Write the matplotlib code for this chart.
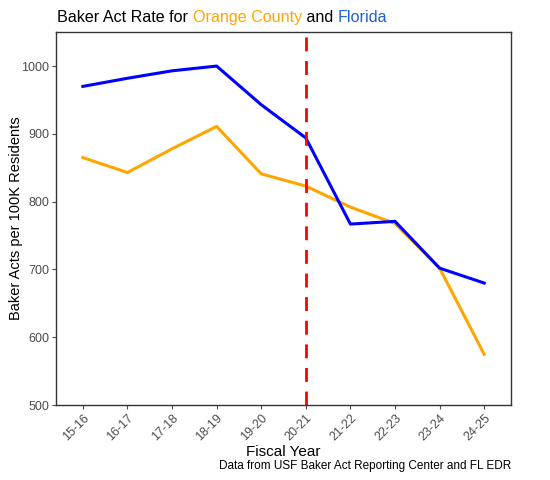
import matplotlib.pyplot as plt
from matplotlib.offsetbox import TextArea, HPacker, AnchoredOffsetbox

plt.rcParams['font.family'] = ['Liberation Sans', 'DejaVu Sans']

# Fiscal years and rates (Baker Acts per 100K residents)
years = ['15-16', '16-17', '17-18', '18-19', '19-20', '20-21', '21-22', '22-23', '23-24', '24-25']
orange_county = [865, 843, 878, 911, 841, 823, 792, 768, 702, 575]
florida = [970, 982, 993, 1000, 943, 894, 767, 771, 702, 680]

orange_col = '#FFA500'
blue_col = '#0000FF'

fig = plt.figure(figsize=(5.5, 4.8), dpi=100)
ax = fig.add_axes([0.102, 0.156, 0.827, 0.777])

x = range(len(years))
ax.plot(x, orange_county, color=orange_col, lw=2.2)
ax.plot(x, florida, color=blue_col, lw=2.2)
ax.axvline(years.index('20-21'), color='#FF0000', lw=2, ls=(0, (5, 3.5)))

ax.set_xlim(-0.6, 9.6)
ax.set_ylim(500, 1050)
ax.set_yticks([500, 600, 700, 800, 900, 1000])
ax.set_xticks(list(x))
ax.set_xticklabels(years, rotation=45, ha='right', rotation_mode='anchor')
ax.tick_params(labelsize=9, colors='#4D4D4D', length=3, pad=2)
for s in ax.spines.values():
    s.set_color('#333333')
    s.set_linewidth(1)

ax.set_xlabel('Fiscal Year', fontsize=11, labelpad=1)
ax.set_ylabel('Baker Acts per 100K Residents', fontsize=10.5, labelpad=-1)

# multi-coloured title
parts = [('Baker Act Rate for ', 'black'), ('Orange County', orange_col),
         (' and ', 'black'), ('Florida', '#1F5FD6')]
boxes = [TextArea(t, textprops=dict(color=c, fontsize=11.6)) for t, c in parts]
title = HPacker(children=boxes, align='baseline', pad=0, sep=0)
anch = AnchoredOffsetbox(loc='lower left', child=title, pad=0, frameon=False,
                         bbox_to_anchor=(0.104, 0.948), bbox_transform=fig.transFigure,
                         borderpad=0)
fig.add_artist(anch)

fig.text(0.929, 0.016, 'Data from USF Baker Act Reporting Center and FL EDR',
         ha='right', va='bottom', fontsize=8.5)

plt.savefig('out.png', dpi=100)
